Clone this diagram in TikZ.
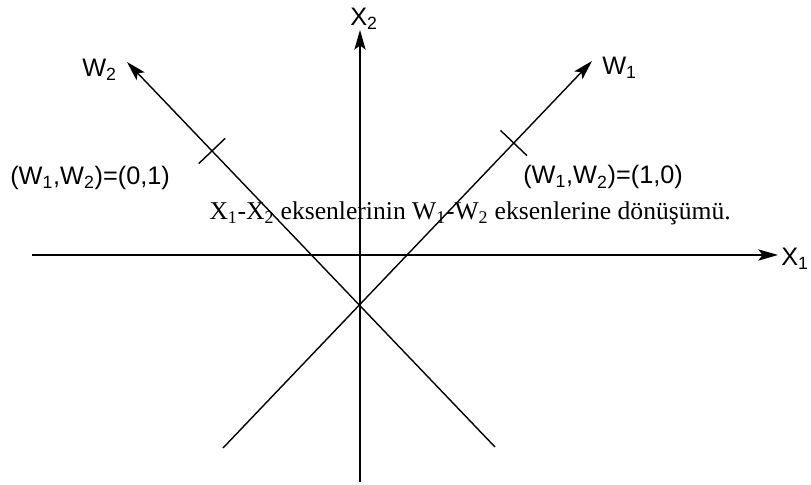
\documentclass[tikz,border=0pt]{standalone}
\usepackage{fontspec}
\setmainfont{Liberation Serif}
\setsansfont{Liberation Sans}
\usetikzlibrary{arrows.meta,calc}

\tikzset{
  axis/.style={line width=1pt,-{Stealth[length=14pt,width=8pt,inset=3pt]}},
  plain/.style={line width=1pt},
  axlabel/.style={font=\sffamily\fontsize{18}{21}\selectfont,inner sep=0pt,anchor=base west},
  caption/.style={font=\fontsize{18.2}{21}\selectfont,inner sep=0pt,anchor=base east},
}

\begin{document}
\begin{tikzpicture}[x=0.025cm,y=-0.025cm]
  \useasboundingbox (0,0) rectangle (811,485);
  % X1 axis
  \coordinate (x1s) at (32,255);
  \coordinate (x1e) at (778,255);
  \draw[axis] (x1s) -- (x1e);
  \node[axlabel] (x1lab) at (781,266) {X\textsubscript{1}};
  % X2 axis
  \coordinate (x2s) at (360,482);
  \coordinate (x2e) at (360,30);
  \draw[axis] (x2s) -- (x2e);
  \node[axlabel] (x2lab) at (350,26) {X\textsubscript{2}};
  % W1 axis, with the unit tick
  \coordinate (w1s) at (223,448);
  \coordinate (w1e) at (592,61);
  \draw[axis] (w1s) -- (w1e) coordinate[pos=0.788] (w1t);
  \draw[plain] ($(w1t)!13pt!90:(w1e)$) -- ($(w1t)!13pt!-90:(w1e)$);
  \node[axlabel] (w1lab) at (602,75) {W\textsubscript{1}};
  \node[axlabel] (p10) at (523,184) {(W\textsubscript{1},W\textsubscript{2})=(1,0)};
  % W2 axis, with the unit tick
  \coordinate (w2s) at (495,447);
  \coordinate (w2e) at (127,62);
  \draw[axis] (w2s) -- (w2e) coordinate[pos=0.769] (w2t);
  \draw[plain] ($(w2t)!13pt!90:(w2e)$) -- ($(w2t)!13pt!-90:(w2e)$);
  \node[axlabel] (w2lab) at (82,77) {W\textsubscript{2}};
  \node[axlabel] (p01) at (10,185) {(W\textsubscript{1},W\textsubscript{2})=(0,1)};
  % caption
  \node[caption] (cap) at (731,220) {X\textsubscript{1}-X\textsubscript{2} eksenlerinin W\textsubscript{1}-W\textsubscript{2} eksenlerine dönüşümü.};
\end{tikzpicture}
\end{document}
